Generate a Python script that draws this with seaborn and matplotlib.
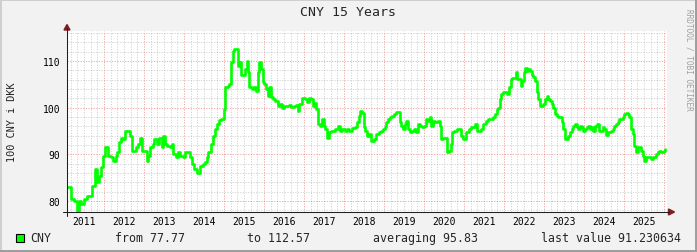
import numpy as np
import pandas as pd
import matplotlib
matplotlib.use("Agg")
import matplotlib.pyplot as plt
import seaborn as sns
from matplotlib.patches import Rectangle, Polygon
from matplotlib.lines import Line2D
from matplotlib.transforms import IdentityTransform
from matplotlib.ticker import MultipleLocator, FixedLocator

# ---------------- data (decimal years, 100 CNY in DKK) ----------------
years = [
    2011.08, 2011.125, 2011.18, 2011.25, 2011.32, 2011.375, 2011.43, 2011.5, 2011.58, 2011.67,
    2011.71, 2011.77, 2011.82, 2011.875, 2011.92, 2011.98, 2012.02, 2012.07, 2012.1, 2012.17,
    2012.23, 2012.29, 2012.33, 2012.375, 2012.43, 2012.48, 2012.525, 2012.6, 2012.65, 2012.71,
    2012.79, 2012.85, 2012.9, 2012.96,
    2013.0, 2013.07, 2013.11, 2013.15, 2013.22, 2013.25, 2013.32, 2013.38, 2013.44, 2013.48,
    2013.53, 2013.58, 2013.65, 2013.69, 2013.73, 2013.8, 2013.86, 2013.9, 2013.97, 2014.025,
    2014.08, 2014.15, 2014.19, 2014.25, 2014.32, 2014.37, 2014.4, 2014.47, 2014.525, 2014.57,
    2014.61, 2014.67, 2014.72, 2014.775, 2014.83, 2014.88,
    2014.93, 2014.97, 2015.01, 2015.03, 2015.09, 2015.13, 2015.175, 2015.22, 2015.26, 2015.32,
    2015.34, 2015.38, 2015.425, 2015.48, 2015.53, 2015.57, 2015.61, 2015.63, 2015.7, 2015.76,
    2015.8, 2015.84, 2015.88, 2015.925, 2015.97, 2016.01, 2016.05, 2016.09, 2016.13, 2016.175,
    2016.22, 2016.28, 2016.34, 2016.4, 2016.45, 2016.51, 2016.57, 2016.62, 2016.675, 2016.74,
    2016.8, 2016.85, 2016.88, 2016.95, 2017.02, 2017.075, 2017.13, 2017.18, 2017.22, 2017.27,
    2017.3, 2017.35, 2017.41, 2017.45, 2017.49, 2017.53, 2017.575, 2017.63, 2017.68, 2017.74,
    2017.78, 2017.85, 2017.91, 2017.95, 2018.02, 2018.075, 2018.13, 2018.2, 2018.27, 2018.325,
    2018.37, 2018.41, 2018.45, 2018.49, 2018.53, 2018.575, 2018.63, 2018.68,
    2018.75, 2018.81, 2018.87, 2018.92, 2018.975, 2019.02, 2019.06, 2019.1, 2019.14, 2019.2,
    2019.25, 2019.31, 2019.35, 2019.39, 2019.43, 2019.475, 2019.52, 2019.56, 2019.6, 2019.64,
    2019.7, 2019.75, 2019.81, 2019.85, 2019.89, 2019.95, 2020.0, 2020.06, 2020.1, 2020.14,
    2020.18, 2020.225, 2020.28, 2020.35, 2020.39, 2020.43, 2020.475, 2020.53, 2020.58,
    2020.625, 2020.67, 2020.71, 2020.75, 2020.82, 2020.875, 2020.93, 2020.98, 2021.04, 2021.08,
    2021.125, 2021.18, 2021.23, 2021.27, 2021.32, 2021.375, 2021.42, 2021.48, 2021.54, 2021.6,
    2021.67, 2021.73, 2021.77, 2021.82, 2021.85, 2021.9, 2021.93, 2021.98, 2022.04, 2022.08,
    2022.125, 2022.17, 2022.21, 2022.25, 2022.29, 2022.33, 2022.375, 2022.42, 2022.46, 2022.5,
    2022.525, 2022.57, 2022.61, 2022.65, 2022.69, 2022.73, 2022.775, 2022.82, 2022.86, 2022.9,
    2022.94, 2022.98, 2023.025, 2023.07, 2023.11, 2023.15, 2023.19, 2023.23, 2023.275, 2023.32,
    2023.36, 2023.4, 2023.44, 2023.48, 2023.525, 2023.57, 2023.61, 2023.65, 2023.69, 2023.73,
    2023.775, 2023.82, 2023.86, 2023.9, 2023.94, 2023.98, 2024.025, 2024.07, 2024.11, 2024.15,
    2024.19, 2024.23, 2024.275, 2024.32, 2024.38,
    2024.425, 2024.47, 2024.51, 2024.55, 2024.59, 2024.63, 2024.675, 2024.72, 2024.76, 2024.8,
    2024.84, 2024.88, 2024.925, 2024.97, 2025.01, 2025.05, 2025.09, 2025.13, 2025.175, 2025.22,
    2025.26, 2025.3, 2025.34, 2025.38, 2025.425, 2025.47, 2025.51, 2025.55, 2025.59, 2025.63,
    2025.675, 2025.72, 2025.76, 2025.8, 2025.84, 2025.88, 2025.925, 2025.97, 2026.01, 2026.03,
]
cny_dkk = [
    83.0, 83.0, 80.4, 80.1, 77.77, 80.1, 79.4, 80.4, 81.1, 81.1,
    83.3, 86.9, 84.0, 85.4, 87.2, 89.7, 91.5, 91.5, 89.7, 89.4,
    88.6, 89.7, 90.4, 92.6, 93.6, 93.3, 95.1, 95.1, 94.0, 90.8,
    91.5, 92.2, 93.6, 90.8,
    90.8, 88.6, 89.7, 91.5, 92.2, 93.3, 92.2, 93.6, 91.5, 94.0,
    92.2, 91.8, 91.5, 92.2, 90.1, 89.4, 90.4, 89.7, 89.4, 90.4,
    90.4, 89.4, 87.9, 86.9, 86.1, 86.1, 87.6, 87.9, 88.3, 89.4,
    90.4, 92.2, 94.0, 95.4, 96.5, 97.4,
    97.6, 97.6, 99.7, 104.4, 104.7, 105.1, 109.7, 112.2, 112.57, 112.5,
    109.0, 109.7, 106.9, 106.9, 108.3, 110.1, 107.6, 104.4, 104.0, 104.4,
    103.6, 107.6, 109.7, 108.3, 105.4, 105.1, 104.0, 102.6, 104.4, 102.2,
    101.9, 101.5, 100.4, 100.7, 100.0, 100.4, 100.4, 100.5, 100.2, 100.4,
    100.5, 99.3, 100.7, 102.0, 101.9, 101.2, 102.0, 101.9, 100.4, 101.0,
    99.7, 96.5, 96.1, 97.6, 96.1, 95.4, 93.6, 94.7, 95.1, 95.1,
    95.4, 96.1, 95.1, 95.4, 94.9, 95.4, 95.1, 95.6, 95.8, 96.9,
    98.3, 99.3, 98.9, 95.8, 95.1, 94.0, 94.4, 92.9,
    93.3, 94.4, 94.7, 95.1, 95.4, 95.8, 96.9, 97.6, 97.9, 98.3,
    98.6, 99.1, 99.0, 96.9, 96.1, 95.4, 96.5, 97.2, 95.4, 94.7,
    95.1, 95.4, 94.7, 96.5, 96.1, 95.8, 96.1, 97.6, 97.2, 98.1,
    96.1, 97.2, 97.0, 97.2, 96.1, 93.3, 93.6, 93.6, 90.4,
    90.8, 92.2, 94.7, 95.1, 95.4, 95.4, 94.0, 93.3, 94.7, 94.7,
    95.4, 95.8, 95.8, 96.5, 95.1, 95.1, 95.4, 96.5, 97.2, 97.6,
    97.6, 97.9, 98.6, 99.7, 100.0, 101.9, 102.9, 103.3, 103.3, 102.9,
    104.4, 106.1, 106.4, 106.4, 107.6, 106.1, 106.1, 104.7, 105.8, 107.6,
    108.4, 107.9, 108.3, 107.9, 106.9, 106.5, 105.8, 103.3, 101.9, 100.4,
    100.4, 100.7, 101.9, 102.6, 101.9, 101.5, 100.7, 100.0, 98.6, 98.3,
    97.9, 97.9, 96.9, 95.4, 93.3, 93.3, 94.0, 94.7, 95.4, 96.1,
    96.5, 95.8, 95.4, 96.1, 95.8, 95.1, 95.4, 95.8, 96.1, 95.4,
    95.8, 95.1, 96.1, 96.5, 95.1,
    94.9, 95.8, 95.4, 94.1, 94.7, 94.7, 95.1, 95.4, 96.1, 96.5,
    96.9, 97.6, 97.6, 97.9, 98.6, 98.9, 98.6, 97.9, 95.4, 94.4,
    91.8, 90.4, 91.5, 91.5, 90.8, 89.7, 88.6, 89.4, 89.5, 89.4,
    89.0, 89.4, 89.4, 90.1, 90.6, 90.8, 90.6, 90.4, 90.8, 91.23,
]
year_labels = [str(y) for y in range(2011, 2026)]
yticks = [80, 90, 100, 110]
series_name = "CNY"
stat_from = "77.77"
stat_to = "112.57"
stat_avg = "95.83"
stat_last = "91.230634"

df = pd.DataFrame({"year": years, "value": cny_dkk})

# ---------------- styling ----------------
sns.set_theme(style="white")
plt.rcParams["font.family"] = ["DejaVu Sans Mono"]

W, H = 697, 253
BACK = "#F2F2F2"
fig = plt.figure(figsize=(W / 100, H / 100), dpi=100, facecolor=BACK)

px_l, px_r, px_t, px_b = 67, 667, 32, 213
ax = fig.add_axes([px_l / W, (H - px_b) / H, (px_r - px_l) / W, (px_b - px_t) / H])
ax.set_facecolor("white")

sns.lineplot(data=df, x="year", y="value", ax=ax, color="#00FF00", lw=1.9,
             drawstyle="steps-post", estimator=None, sort=False, legend=False, zorder=5)

x0 = 2011.075
ax.set_xlim(x0, x0 + 15)
ax.set_ylim(77.64, 116.43)

ax.xaxis.set_major_locator(FixedLocator(list(range(2012, 2027))))
ax.xaxis.set_minor_locator(MultipleLocator(1 / 6))
ax.yaxis.set_major_locator(FixedLocator(yticks))
ax.yaxis.set_minor_locator(MultipleLocator(2))
ax.set_xticklabels([])
ax.set_yticklabels([str(v) for v in yticks])
ax.tick_params(axis="y", which="major", length=0, pad=5, labelsize=7, colors="black")
ax.tick_params(axis="x", which="both", length=0)
ax.tick_params(axis="y", which="minor", length=0)

ax.grid(which="minor", color=(0.56, 0.56, 0.56), alpha=0.42, lw=0.65, ls=(0, (1.3, 1.6)))
ax.grid(which="major", color=(0.87, 0.31, 0.31), alpha=0.55, lw=0.65, ls=(0, (1.3, 1.6)))
for s in ax.spines.values():
    s.set_visible(False)
ax.set_xlabel("")
ax.set_ylabel("")

# year labels centred in each year
for lab in year_labels:
    ax.annotate(lab, xy=(int(lab) + 0.5, 0), xycoords=("data", "axes fraction"),
                xytext=(0, -9.5), textcoords="offset pixels", ha="center", va="center",
                fontsize=7, color="black")

T = IdentityTransform()
def py(y):
    return H - y

# axes lines with arrows
AX = (0.12, 0.12, 0.12)
ARROW = (0.50, 0.12, 0.12)
fig.add_artist(Line2D([63, 669], [py(213), py(213)], transform=T, color=AX, lw=0.75))
fig.add_artist(Line2D([67, 67], [py(217), py(29)], transform=T, color=AX, lw=0.75))
fig.add_artist(Polygon([[64, py(31)], [70, py(31)], [67, py(25.5)]], closed=True,
                       transform=T, color=ARROW))
fig.add_artist(Polygon([[668.5, py(210)], [668.5, py(216)], [674.5, py(213)]], closed=True,
                       transform=T, color=ARROW))

# 3D frame
fig.add_artist(Rectangle((0, H - 2), W, 2, transform=T, color="#CFCFCF", lw=0))
fig.add_artist(Rectangle((0, 0), 2, H, transform=T, color="#CFCFCF", lw=0))
fig.add_artist(Rectangle((0, 0), W, 2, transform=T, color="#9E9E9E", lw=0))
fig.add_artist(Rectangle((W - 2, 0), 2, H, transform=T, color="#9E9E9E", lw=0))

# title, unit label, watermark
fig.text(348.5 / W, 1 - 13 / H, "CNY 15 Years", ha="center", va="center", fontsize=9.5)
fig.text(12.5 / W, 1 - 122.5 / H, "100 CNY i DKK", rotation=90, ha="center", va="center",
         fontsize=7.4)
fig.text(688.5 / W, 1 - 60 / H, "RRDTOOL / TOBI OETIKER", rotation=270, ha="center",
         va="center", fontsize=5.6, color="#A0A0A0")

# legend line
ly = 238.5
fig.add_artist(Rectangle((15.5, py(243)), 8, 8, transform=T, facecolor="#00FF00",
                         edgecolor="black", lw=0.8))
fig.text(30 / W, 1 - ly / H, series_name, ha="left", va="center", fontsize=8.4)
fig.text(115 / W, 1 - ly / H, "from " + stat_from, ha="left", va="center", fontsize=8.4)
fig.text(247 / W, 1 - ly / H, "to " + stat_to, ha="left", va="center", fontsize=8.4)
fig.text(373 / W, 1 - ly / H, "averaging " + stat_avg, ha="left", va="center", fontsize=8.4)
fig.text(541 / W, 1 - ly / H, "last value " + stat_last, ha="left", va="center", fontsize=8.4)

fig.savefig("out.png", dpi=100, facecolor=BACK)
